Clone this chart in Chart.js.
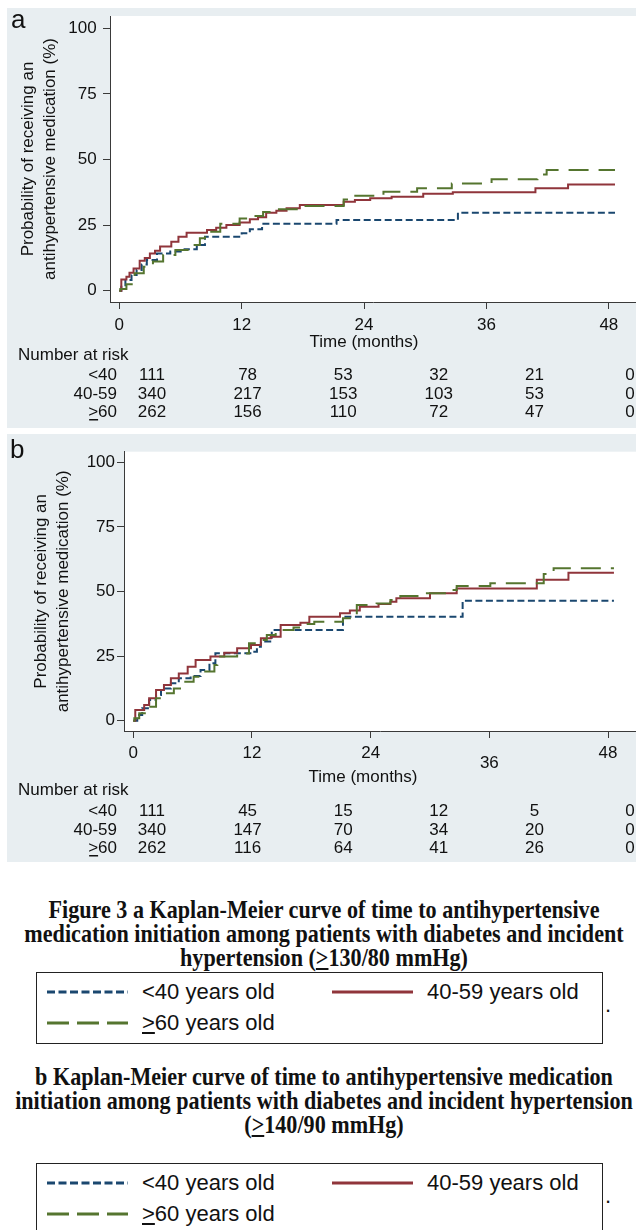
<!DOCTYPE html>
<html>
<head>
<meta charset="utf-8">
<script src="https://cdn.jsdelivr.net/npm/chart.js@4.4.1/dist/chart.umd.min.js"></script>
<style>
  body { margin: 0; width: 636px; height: 1230px; position: relative; overflow: hidden; background: #fff;
         font-family: "Liberation Sans", Arial, sans-serif; color: #111; }
  .panel { position: absolute; left: 7px; background: #e8eef1; }
  .cap { position: absolute; left: 0; width: 636px; white-space: nowrap;
         font-family: "Liberation Serif", "Times New Roman", serif; font-weight: bold;
         font-size: 25px; line-height: 24px; color: #111; }
  .cap div { position: relative; left: 324px; width: max-content;
             transform: translateX(-50%) scaleX(0.885); }
  .legend { position: absolute; left: 36px; width: 565px; border: 1.5px solid #222; }
  .lg-text { position: absolute; font-size: 22px; line-height: 26px; white-space: nowrap; color: #111; }
  .lg-line { position: absolute; }
  .dot { position: absolute; left: 605px; font-size: 22px; line-height: 22px; }
</style>
</head>
<body>
<canvas id="panelA" class="panel" width="629" height="420" style="top:8px"></canvas>
<canvas id="panelB" class="panel" width="629" height="428" style="top:434px"></canvas>

<div class="cap" style="top:898px">
  <div>Figure 3 a Kaplan-Meier curve of time to antihypertensive</div>
  <div>medication initiation among patients with diabetes and incident</div>
  <div>hypertension (<u>&gt;</u>130/80 mmHg)</div>
</div>
<div class="cap" style="top:1065px">
  <div>b Kaplan-Meier curve of time to antihypertensive medication</div>
  <div>initiation among patients with diabetes and incident hypertension</div>
  <div>(<u>&gt;</u>140/90 mmHg)</div>
</div>

<script>
// ---- data ----
const seriesNames = ['<40 years old', '40-59 years old', '≥60 years old'];
const groupLabels = ['<40', '40-59', '≥60'];
const colors = ['#1a476f', '#90353b', '#55752f'];
const dashes = [[7, 3.5], [], [20, 10]];

const xTicks = [0, 12, 24, 36, 48];
const yTicks = [0, 25, 50, 75, 100];

// panel a: [month, % receiving medication]
const aLt40 = [[0,0],[0.2,1.5],[0.6,4.1],[1.2,6],[1.7,7.9],[2.2,10],[2.7,11.7],[3.7,14.2],[5,14.9],
  [6.4,15.8],[7.6,17.4],[8.4,20.6],[12,21.9],[12.8,23.4],[14,25.5],[21.3,26.9],[33.2,29.7],[48.6,29.7]];
const a4059 = [[0,0],[0.2,4.3],[0.7,5.3],[1.0,6.8],[1.4,8.5],[2.0,11.4],[2.5,12.5],[3.0,14.2],[3.5,15.2],
  [4.0,16.8],[5.1,18.7],[5.8,20.6],[6.6,22.1],[8.6,23.1],[9.5,24],[10.5,25],[11.8,26],[12.8,27.2],
  [13.6,28],[14.4,29.7],[15.4,30.5],[16.4,31.4],[17.7,32.7],[22,33.9],[23.1,34.6],[24.6,35.2],
  [26.7,35.8],[29.8,36.9],[32.7,37.5],[40.8,39],[44,40.5],[48.6,40.5]];
const aGe60 = [[0,0],[0.1,0.6],[0.7,2.5],[1.5,6.6],[2.4,9.1],[3.3,11.1],[4.3,13.6],[5.5,15.5],[6.9,17.4],
  [7.9,20],[8.4,22.5],[9.9,25.5],[11.8,27.5],[13,28.5],[14.1,30],[15.4,31],[17.4,32.3],[22,34.8],
  [22.6,36.2],[25.9,37.7],[29.2,39],[32.6,40.9],[36.5,42.5],[41,44.3],[41.9,46],[48.6,46]];

// panel b
const bLt40 = [[0,0],[0.4,2.2],[0.9,4.8],[1.6,8],[2.3,9.9],[2.8,12.5],[3.8,14.5],[4.6,16.4],[5.8,17.3],
  [6.8,19.6],[7.7,22.2],[8.3,26.1],[12,26.7],[12.5,28.6],[12.9,30.6],[14,35.1],[21.2,40.2],[33.3,46.4],[48.6,46.4]];
const b4059 = [[0,0],[0.2,4.1],[1.1,6.1],[1.6,8.7],[2.3,11.9],[3.1,13.8],[3.8,16.4],[4.6,18.3],[5.5,20.9],
  [6.3,23.5],[7.8,24.8],[9.2,26.3],[10.5,28],[11.9,29.3],[12.9,31.9],[13.9,32.5],[14.9,37],[16.9,37.9],
  [17.8,40.2],[20.9,41.6],[21.9,42.6],[22.9,44.1],[24.8,45.2],[26,46],[26.6,47.4],[30,49.3],[32.7,51.2],
  [40.8,54.5],[44,57.3],[48.6,57.3]];
const bGe60 = [[0,0],[0.1,0.9],[0.6,2.9],[1.4,5.4],[2.3,8.7],[3.1,10.6],[4.1,12.5],[5.1,15.1],[6.1,17],
  [7.1,19],[8.2,21.6],[8.5,24.8],[10.5,26],[11.7,30],[12.5,31.2],[13.5,33.2],[14.4,35.1],[16.2,36.1],
  [17.4,37.4],[18.3,38.3],[21.2,39.6],[21.9,41.6],[22.6,44.8],[24.6,45.4],[26,46.7],[27,48.3],[29.3,49.3],
  [32,50.6],[32.7,52.1],[36.1,53.2],[41.5,56.8],[42.5,59],[48.6,59]];

// number at risk
const riskALt40 = [111, 78, 53, 32, 21, 0];
const riskA4059 = [340, 217, 153, 103, 53, 0];
const riskAGe60 = [262, 156, 110, 72, 47, 0];
const riskBLt40 = [111, 45, 15, 12, 5, 0];
const riskB4059 = [340, 147, 70, 34, 20, 0];
const riskBGe60 = [262, 116, 64, 41, 26, 0];

// ---- drawing ----
const FAMILY = '"Liberation Sans", Arial, sans-serif';
const TXT = '#111';
const AXIS = '#3a3a3a';

// draws "≥60" the way the figure does: an underlined ">"
function drawGroupLabel(ctx, label, right, y) {
  ctx.textAlign = 'right';
  if (label[0] !== '≥') { ctx.fillText(label, right, y); return; }
  const rest = label.slice(1);
  const wRest = ctx.measureText(rest).width;
  const wGt = ctx.measureText('>').width;
  ctx.fillText(rest, right, y);
  ctx.fillText('>', right - wRest, y);
  ctx.fillRect(right - wRest - wGt + 1, y + 7, wGt - 1, 1.5);
}

function panelPlugin(letter, risk, L) {
  return {
    id: 'kmPanel',
    beforeDraw(chart) {
      const { ctx, chartArea: a } = chart;
      ctx.save();
      ctx.fillStyle = '#fff';
      ctx.fillRect(a.left, a.top, a.right - a.left, a.bottom - a.top);
      ctx.restore();
    },
    afterDraw(chart) {
      const ctx = chart.ctx;
      ctx.save();
      ctx.fillStyle = TXT;
      ctx.textBaseline = 'alphabetic';
      ctx.textAlign = 'left';
      ctx.font = '26px ' + FAMILY;
      ctx.fillText(letter, L.letterX, L.letterY);

      ctx.font = '17px ' + FAMILY;
      ctx.textBaseline = 'middle';
      ctx.textAlign = 'center';
      ctx.fillText('Time (months)', L.timeX, L.timeY);   // x-axis title (Stata puts it a bit left of centre)

      ctx.textAlign = 'left';
      ctx.fillText('Number at risk', 11, L.headY);
      risk.forEach((row, r) => {
        const y = L.rowY[r];
        drawGroupLabel(ctx, groupLabels[r], 110, y);
        ctx.textAlign = 'center';
        row.forEach((n, k) => ctx.fillText(String(n), 145 + k * 95.6, y));
      });
      ctx.restore();
    }
  };
}

function makePanel(id, letter, curves, risk, L) {
  const datasets = curves.map((pts, i) => ({
    label: seriesNames[i],
    data: pts.map(([x, y]) => ({ x, y })),
    borderColor: colors[i],
    borderWidth: 2,
    borderDash: dashes[i],
    stepped: true,
    pointRadius: 0,
    fill: false,
    order: 2 - i
  }));

  return new Chart(document.getElementById(id), {
    type: 'line',
    data: { datasets },
    options: {
      responsive: false,
      animation: false,
      events: [],
      layout: { padding: { left: 0, right: 0, top: L.top, bottom: L.bottom } },
      plugins: { legend: { display: false }, tooltip: { enabled: false } },
      scales: {
        x: {
          type: 'linear',
          min: L.xMin, max: L.xMax,
          afterBuildTicks: s => { s.ticks = xTicks.map(v => ({ value: v })); },
          afterFit: s => { s.height = L.xH; s.paddingLeft = 0; s.paddingRight = 0; },
          border: { display: true, color: AXIS, width: 1 },
          grid: { display: true, drawOnChartArea: false, drawTicks: true, tickLength: 7, color: AXIS },
          ticks: {
            color: TXT, padding: L.xPad, maxRotation: 0, autoSkip: false,
            font: c => ({ family: FAMILY, size: 17,
              lineHeight: (L.dropTick !== undefined && c.tick && c.tick.value === L.dropTick) ? 0.8 : 1.2 }),
            callback: v => (v === L.dropTick ? ['', String(v)] : String(v))
          },
          title: { display: false }
        },
        y: {
          min: L.yMin, max: L.yMax,
          afterBuildTicks: s => { s.ticks = yTicks.map(v => ({ value: v })); },
          afterFit: s => { s.width = L.yW; s.paddingTop = 0; s.paddingBottom = 0; },
          border: { display: true, color: AXIS, width: 1 },
          grid: { display: true, drawOnChartArea: false, drawTicks: true, tickLength: 7, color: AXIS },
          ticks: { color: TXT, padding: L.yPad, font: { family: FAMILY, size: 17 } },
          title: { display: true, text: ['Probability of receiving an', 'antihypertensive medication (%)'],
                   color: TXT, font: { family: FAMILY, size: 17, lineHeight: 22 / 17 },
                   padding: { top: L.yTitlePad, bottom: 0 } }
        }
      }
    },
    plugins: [panelPlugin(letter, risk, L)]
  });
}

makePanel('panelA', 'a', [aLt40, a4059, aGe60], [riskALt40, riskA4059, riskAGe60], {
  top: 8, bottom: 75.8, xH: 50.2, yW: 103, xPad: 5.8, yPad: 6.3, yTitlePad: 10,
  xMin: -0.91, xMax: 50.66, yMin: -4.31, yMax: 104.69,
  letterX: 4, letterY: 20, timeX: 357, timeY: 334, headY: 347, rowY: [367, 386, 404]
});

makePanel('panelB', 'b', [bLt40, b4059, bGe60], [riskBLt40, riskB4059, riskBGe60], {
  top: 17.7, bottom: 74.8, xH: 56.2, yW: 117, xPad: 4.8, yPad: 2, yTitlePad: 23.7,
  xMin: -0.94, xMax: 50.83, yMin: -3.99, yMax: 104.1, dropTick: 36,
  letterX: 3, letterY: 24, timeX: 356, timeY: 343, headY: 356, rowY: [377, 396, 414]
});

// ---- legends below the captions ----
function legendHtml(label) {
  return label.replace(/</g, '&lt;').replace('≥', '<u>&gt;</u>');
}

function makeLegend(top, height) {
  const box = document.createElement('div');
  box.className = 'legend';
  box.style.top = top + 'px';
  box.style.height = height + 'px';
  document.body.appendChild(box);

  const slots = [[47, 142, 20], [332, 427, 20], [47, 142, 51]];
  seriesNames.forEach((name, i) => {
    const [lx, tx, dy] = slots[i];
    const y = top + dy;
    const svg = document.createElementNS('http://www.w3.org/2000/svg', 'svg');
    svg.setAttribute('class', 'lg-line');
    svg.setAttribute('width', '81');
    svg.setAttribute('height', '6');
    svg.style.left = lx + 'px';
    svg.style.top = (y - 3) + 'px';
    const ln = document.createElementNS('http://www.w3.org/2000/svg', 'line');
    ln.setAttribute('x1', '0'); ln.setAttribute('x2', '81');
    ln.setAttribute('y1', '3'); ln.setAttribute('y2', '3');
    ln.setAttribute('stroke', colors[i]);
    ln.setAttribute('stroke-width', '3');
    if (dashes[i].length) ln.setAttribute('stroke-dasharray', i === 0 ? '8 3.5' : '22 8');
    svg.appendChild(ln);
    document.body.appendChild(svg);

    const t = document.createElement('div');
    t.className = 'lg-text';
    t.style.left = tx + 'px';
    t.style.top = (y - 13) + 'px';
    t.innerHTML = legendHtml(name);
    document.body.appendChild(t);
  });

  const dot = document.createElement('div');
  dot.className = 'dot';
  dot.style.top = (top + 22) + 'px';
  dot.textContent = '.';
  document.body.appendChild(dot);
}

makeLegend(972, 70);
makeLegend(1163, 80);
</script>
</body>
</html>
